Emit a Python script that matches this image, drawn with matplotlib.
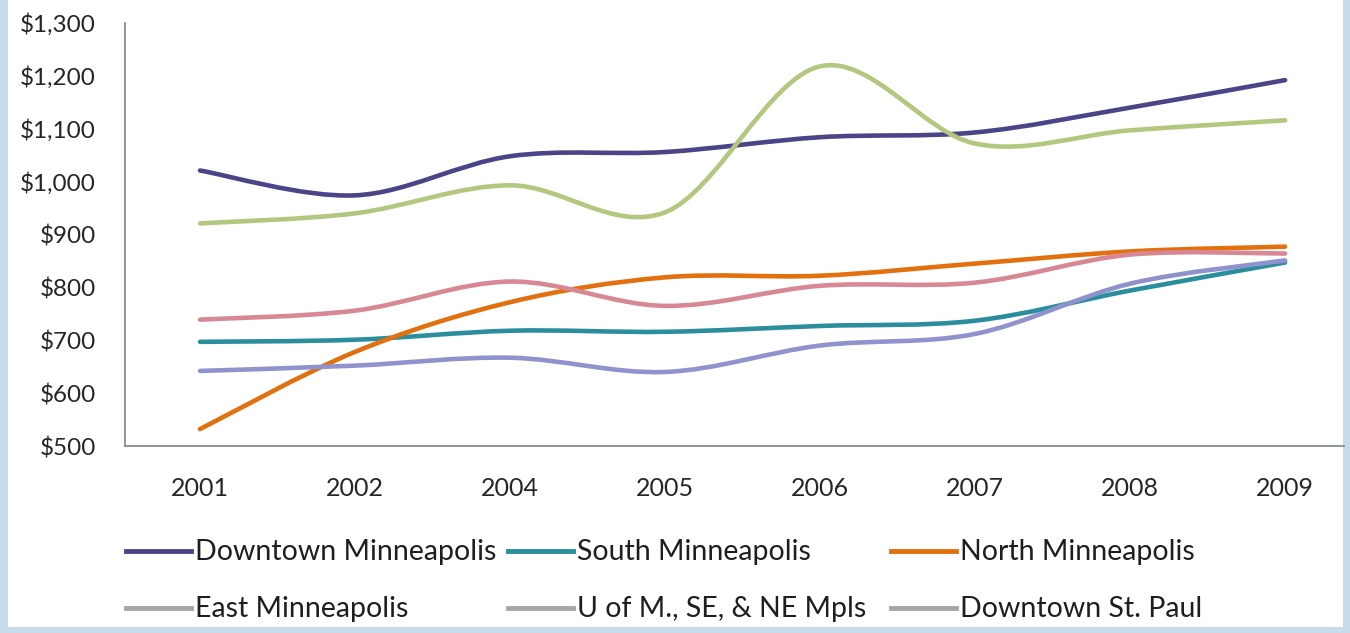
import numpy as np
import matplotlib
matplotlib.use("Agg")
import matplotlib.pyplot as plt
from matplotlib.path import Path
from matplotlib.patches import PathPatch, Rectangle
from matplotlib.lines import Line2D

plt.rcParams['font.family'] = ['Lato', 'DejaVu Sans']

years = ['2001', '2002', '2004', '2005', '2006', '2007', '2008', '2009']
downtown_mpls = [1021, 974, 1048, 1056, 1084, 1093, 1140, 1192]
south_mpls = [697, 701, 718, 716, 727, 737, 794, 847]
north_mpls = [532, 678, 772, 819, 822, 845, 868, 877]
east_mpls = [739, 756, 811, 765, 803, 809, 862, 864]
u_of_m = [642, 652, 667, 640, 690, 712, 807, 851]
downtown_stpaul = [921, 940, 993, 942, 1218, 1072, 1097, 1116]

names = ['Downtown Minneapolis', 'South Minneapolis', 'North Minneapolis',
         'East Minneapolis', 'U of M., SE, & NE Mpls', 'Downtown St. Paul']
series = [downtown_mpls, south_mpls, north_mpls, east_mpls, u_of_m, downtown_stpaul]
colors = ['#4a4588', '#2b8e9c', '#e2700f', '#d88894', '#8f92cc', '#b3c77f']
legend_colors = ['#4a4588', '#2b8e9c', '#e2700f', '#a6a6a6', '#a6a6a6', '#a6a6a6']


def smooth_path(xs, ys):
    # excel style smoothed line: cubic bezier through every point
    pts = np.column_stack([xs, ys]).astype(float)
    n = len(pts)
    verts = [pts[0]]
    codes = [Path.MOVETO]
    for i in range(n - 1):
        p0 = pts[max(i - 1, 0)]
        p1 = pts[i]
        p2 = pts[i + 1]
        p3 = pts[min(i + 2, n - 1)]
        c1 = p1 + (p2 - p0) / 6.0
        c2 = p2 - (p3 - p1) / 6.0
        verts += [c1, c2, p2]
        codes += [Path.CURVE4] * 3
    return Path(verts, codes)


fig = plt.figure(figsize=(13.5, 6.33), dpi=100)
fig.patch.set_facecolor('#c7dcea')
fig.add_artist(Rectangle((8 / 1350, 6 / 633), 1335 / 1350, 627 / 633,
                         transform=fig.transFigure, facecolor='white',
                         edgecolor='none', zorder=0))

ax = fig.add_axes([125 / 1350, 1 - 446 / 633, 1219 / 1350, 423 / 633])
ax.set_facecolor('none')
x = np.arange(len(years))
for vals, c in zip(series, colors):
    ax.add_patch(PathPatch(smooth_path(x, vals), facecolor='none',
                           edgecolor=c, lw=3.3, capstyle='round'))

ax.set_xlim(-0.484, 7.38)
ax.set_ylim(500, 1300)
ax.set_yticks(np.arange(500, 1301, 100))
ax.set_yticklabels(['${:,}'.format(v) for v in range(500, 1301, 100)])
ax.set_xticks(x)
ax.set_xticklabels(years)
ax.tick_params(length=0, colors='#262626')
ax.tick_params(axis='y', pad=21, labelsize=17.5)
ax.tick_params(axis='x', pad=22, labelsize=18)
for s in ['top', 'right']:
    ax.spines[s].set_visible(False)
for s in ['left', 'bottom']:
    ax.spines[s].set_color('#8a8a8a')
    ax.spines[s].set_linewidth(1.3)

# legend laid out like the excel one
text_x = [195, 577, 960]
row_base = [560, 617]
for i, (name, c) in enumerate(zip(names, legend_colors)):
    r, col = divmod(i, 3)
    tx = text_x[col] / 1350
    ty = 1 - row_base[r] / 633
    hy = 1 - (row_base[r] - 9) / 633
    fig.add_artist(Line2D([tx - 69 / 1350, tx - 4 / 1350], [hy, hy],
                          transform=fig.transFigure, color=c, lw=3.5))
    fig.text(tx, ty, name, fontsize=20.5, va='baseline', ha='left', color='#1e1e1e')

fig.savefig('out.png', dpi=100)
